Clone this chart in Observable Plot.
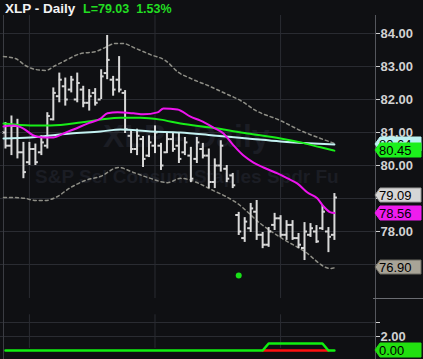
<!DOCTYPE html>
<html><head><meta charset="utf-8">
<script src="https://cdn.jsdelivr.net/npm/d3@7"></script>
<script src="https://cdn.jsdelivr.net/npm/@observablehq/plot@0.6"></script>
<style>
html,body{margin:0;padding:0;background:#0f1013;}
#chart{position:relative;width:423px;height:359px;background:#0f1013;overflow:hidden;}
#chart svg{position:absolute;left:0;display:block;overflow:visible;}
</style></head><body><div id="chart"></div>
<script>
// ---- data ----
const ticker = "XLP - Daily";
const lastText = "L=79.03  1.53%";
const watermark1 = "XLP - Daily";
const watermark2 = "S&P Sel Consum Staples Spdr Fu";

const opens  = [81.0,80.6,81.2,80.4,80.1,80.5,80.4,80.6,81.4,82.1, 82.4,82.3,82.0,82.3,81.9,82.2,82.0,82.8,82.6,82.6, 82.2,80.9,80.5,80.8,80.3,80.6,80.6,80.4,80.8,80.6, 80.4,80.3,80.2,80.5,80.3,79.5,80.0,79.9,79.7,78.5, 77.8,78.1,78.6,77.9,77.6,78.2,78.4,77.9,78.2,77.8, 77.5,77.9,78.0,78.1,78.0,77.9];
const highs  = [81.30,81.50,81.40,80.70,80.70,80.65,80.90,81.60,82.35,82.80, 82.65,82.70,82.80,82.40,82.30,82.33,82.90,83.94,82.70,83.30, 82.27,81.06,81.10,80.88,80.90,81.20,80.67,80.97,81.00,80.97, 80.85,80.55,80.85,80.67,80.50,80.20,80.75,80.00,79.76,78.58, 78.42,78.85,78.94,77.97,78.12,78.55,78.48,78.33,78.33,77.94, 78.27,78.24,78.18,78.79,78.12,79.15];
const lows   = [80.50,80.30,80.20,79.60,80.00,80.00,80.30,80.50,81.35,81.90, 81.80,82.20,81.90,81.75,81.65,81.80,82.00,82.60,82.10,82.20, 80.97,80.36,80.30,79.94,80.24,80.36,79.85,80.36,80.40,80.06, 80.30,79.48,80.06,80.20,79.30,79.30,79.80,79.48,79.30,77.88, 77.67,77.97,77.73,77.48,77.52,78.03,77.82,77.73,77.73,77.48, 77.12,77.82,77.64,78.03,77.36,77.73];
const closes = [80.6,81.2,80.4,79.8,80.5,80.1,80.7,81.5,82.2,82.6, 82.0,82.6,82.5,81.9,82.1,81.9,82.7,83.2,82.3,82.3, 81.1,80.5,80.9,80.2,80.7,81.0,80.0,80.8,80.5,80.2, 80.7,79.6,80.7,80.3,79.5,80.0,80.6,79.6,79.4,78.0, 78.3,78.7,77.9,77.6,78.0,78.4,77.9,78.2,77.8,77.6, 78.0,78.1,77.7,78.6,77.84,79.03];

// short moving average (magenta), sampled along the bar axis
const maShortAt  = [-0.33,1.34,3.01,4.68,6.35,8.03,9.70,11.37,13.71,15.89,17.06,18.73,21.40,23.08,25.42,26.42,28.76,30.94,32.61,34.78,36.45,38.13,39.80,41.47,43.14,45.48,47.16,48.83,50.50,52.17,53.18,54.35,55];
const maShortVal = [81.18,81.21,81.12,80.91,80.85,80.85,80.97,81.09,81.27,81.42,81.58,81.61,81.58,81.55,81.61,81.73,81.70,81.48,81.36,81.15,80.97,80.61,80.30,80.09,79.94,79.76,79.61,79.45,79.18,79.00,78.76,78.58,78.56];
// medium moving average (green)
const maMidAt  = [-0.33,4.18,7.53,12.54,15.89,19.23,22.58,25.92,29.26,34.28,40.47,45.99,49.33,52.68,55];
const maMidVal = [81.27,81.21,81.21,81.30,81.39,81.45,81.45,81.39,81.27,81.15,80.97,80.82,80.70,80.55,80.45];
// long moving average (light cyan)
const maLongAt  = [-0.33,4.18,7.53,10.87,15.89,19.23,24.25,29.26,34.78,40.47,45.99,51.50,55];
const maLongVal = [80.82,80.85,80.91,80.97,81.03,81.09,81.03,81.00,80.91,80.82,80.73,80.67,80.64];
// Bollinger bands (grey dashed)
const bbUpAt  = [-0.33,1.67,3.34,5.02,6.69,8.36,10.03,12.54,15.05,16.72,18.39,19.57,21.74,24.25,26.76,28.93,30.94,34.28,36.79,39.30,41.81,45.99,49.33,52.68,55];
const bbUpVal = [83.30,83.24,83.03,82.91,82.88,83.03,83.18,83.39,83.45,83.58,83.70,83.70,83.55,83.36,83.18,82.82,82.64,82.39,82.18,81.97,81.67,81.36,81.06,80.82,80.67];
const bbLoAt  = [-0.33,1.67,3.34,5.02,6.69,8.36,10.87,13.38,15.89,18.9,21.4,24.25,27.09,29.26,34.78,38.80,42.64,45.99,49.83,54.35,55];
const bbLoVal = [79.03,79.03,79.00,78.94,78.94,79.03,79.33,79.55,79.67,79.94,79.79,79.61,79.48,79.61,79.24,78.85,78.24,77.82,77.42,76.88,76.90];

const signalAt = [39], signalVal = [76.67];
const indGreen = Array.from({length: 56}, (_, i) => (i >= 44 && i <= 53) ? 1 : 0);
const indRedFrom = 43, indRedTo = 54;

const priceTicks = [77,78,79,80,81,82,83,84];
const hiddenTickLabels = [77,79]; // covered by price tags in the reference
const indTicks = [2,4];
const monthBreaks = [4,25,46];
const indGridSpan = [0.3,5.1];

const priceLabels = [
  {v: 80.64, fill: "#bdf2f2", stroke: "#bdf2f2"},
  {v: 80.45, fill: "#1cf01c", stroke: "#1cf01c"},
  {v: 79.09, fill: "#d6d6d6", stroke: "#9a9a9a"},
  {v: 78.56, fill: "#ee1cee", stroke: "#ee1cee"},
  {v: 76.90, fill: "#a8a497", stroke: "#6d6a62"}
];
const indLabels = [{v: 0, fill: "#22e010", stroke: "#22e010"}];

// ---- build ----
const font = "'Liberation Sans', Arial, sans-serif";
const grid = "#2a2c32", axisCol = "#55575d", txt = "#d2d2d2";
const xDomain = [-0.33, 61.87];
const bars = highs.map((h, i) => ({i, o: opens[i], h, l: lows[i], c: closes[i]}));
const pts = (at, val) => at.map((x, k) => ({x, y: val[k]}));

const main = Plot.plot({
  width: 423, height: 298,
  marginLeft: 3, marginRight: 48, marginTop: 15, marginBottom: 0,
  style: {background: "transparent", fontFamily: font, overflow: "visible"},
  x: {domain: xDomain, axis: null},
  y: {domain: [75.97, 84.545], axis: null},
  marks: [
    Plot.ruleY(priceTicks, {stroke: grid, strokeWidth: 1}),
    Plot.ruleX(monthBreaks, {stroke: grid, strokeWidth: 1}),
    Plot.ruleX([xDomain[0]], {stroke: "#3a3c42"}),
    Plot.line(pts(bbUpAt, bbUpVal), {x: "x", y: "y", stroke: "#8e8e86", strokeWidth: 1.5, strokeDasharray: "3,3", curve: "monotone-x"}),
    Plot.line(pts(bbLoAt, bbLoVal), {x: "x", y: "y", stroke: "#8e8e86", strokeWidth: 1.5, strokeDasharray: "3,3", curve: "monotone-x"}),
    Plot.ruleX(bars, {x: "i", y1: "l", y2: "h", stroke: "#d9d9d9", strokeWidth: 2}),
    Plot.ruleY(bars, {x1: d => d.i - 0.5, x2: "i", y: "o", stroke: "#d9d9d9", strokeWidth: 2}),
    Plot.ruleY(bars, {x1: "i", x2: d => d.i + 0.5, y: "c", stroke: "#d9d9d9", strokeWidth: 2}),
    Plot.line(pts(maLongAt, maLongVal), {x: "x", y: "y", stroke: "#c4f2f2", strokeWidth: 2, curve: "monotone-x"}),
    Plot.line(pts(maMidAt, maMidVal), {x: "x", y: "y", stroke: "#18ee18", strokeWidth: 2, curve: "monotone-x"}),
    Plot.line(pts(maShortAt, maShortVal), {x: "x", y: "y", stroke: "#ee14ee", strokeWidth: 2, curve: "monotone-x"}),
    Plot.dot(pts(signalAt, signalVal), {x: "x", y: "y", r: 3, fill: "#18e018", stroke: "none"}),
    Plot.ruleX([xDomain[1]], {stroke: axisCol}),
    Plot.axisY({anchor: "left", ticks: priceTicks, tickSize: 3, tickFormat: () => "", color: grid, label: null}),
    Plot.axisY({anchor: "right", ticks: priceTicks, tickSize: 4, tickPadding: 1, tickFormat: d => hiddenTickLabels.includes(d) ? "" : d.toFixed(2), color: txt, fontSize: 13, fontWeight: "bold", fontFamily: font, label: null})
  ]
});

const ind = Plot.plot({
  width: 423, height: 61,
  marginLeft: 3, marginRight: 48, marginTop: 0, marginBottom: 0,
  style: {background: "transparent", fontFamily: font, overflow: "visible"},
  x: {domain: xDomain, axis: null},
  y: {domain: [-1.286, 7.43], axis: null},
  marks: [
    Plot.ruleY(indTicks, {stroke: grid}),
    Plot.ruleX(monthBreaks, {y1: indGridSpan[0], y2: indGridSpan[1], stroke: grid}),
    Plot.ruleX([xDomain[0]], {stroke: "#3a3c42"}),
    Plot.line(d3.range(indRedFrom, indRedTo + 1).map(i => ({i, v: 0})), {x: "i", y: "v", stroke: "#ff1010", strokeWidth: 2.5}),
    Plot.line(indGreen.map((v, i) => ({i, v})), {x: "i", y: "v", stroke: "#10f010", strokeWidth: 2.5}),
    Plot.ruleX([xDomain[1]], {stroke: axisCol}),
    Plot.axisY({anchor: "left", ticks: indTicks, tickSize: 3, tickFormat: () => "", color: grid, label: null}),
    Plot.axisY({anchor: "right", ticks: indTicks, tickSize: 4, tickPadding: 1, tickFormat: d => d === 2 ? d.toFixed(2) : "", color: txt, fontSize: 13, fontWeight: "bold", fontFamily: font, label: null})
  ]
});

const root = document.getElementById("chart");
main.style.top = "0px"; ind.style.top = "298px";
root.appendChild(main); root.appendChild(ind);

// watermark behind marks
const ms = d3.select(main);
const firstG = main.querySelector("g");
const wm = document.createElementNS("http://www.w3.org/2000/svg", "g");
main.insertBefore(wm, firstG);
d3.select(wm).attr("text-anchor", "start");
d3.select(wm).append("text").attr("x", 103).attr("y", 147).attr("font-size", 32).attr("font-weight", "bold")
  .attr("font-family", font).attr("fill", "#1b1d24").text(watermark1);
d3.select(wm).append("text").attr("x", 35).attr("y", 183).attr("font-size", 19).attr("font-weight", "bold")
  .attr("font-family", font).attr("fill", "#1b1d24").text(watermark2);

// title
const t = ms.append("text").attr("x", 5).attr("y", 13).attr("text-anchor", "start").attr("font-family", font).attr("font-weight", "bold");
t.append("tspan").attr("font-size", 13.5).attr("fill", "#f2f2f2").text(ticker);
t.append("tspan").attr("x", 83).attr("font-size", 12.5).attr("fill", "#22dd22").style("white-space", "pre").text(lastText);

// price tags on the right axis
function tags(svg, plot, list) {
  const y = plot.scale("y");
  const x0 = 375, w = 46, h = 14;
  const g = d3.select(svg).append("g").attr("text-anchor", "start");
  for (const L of list) {
    const yc = Math.round(y.apply(L.v));
    g.append("path")
      .attr("d", `M${x0},${yc}L${x0+5},${yc-h/2}H${x0+w}V${yc+h/2}H${x0+5}Z`)
      .attr("fill", L.fill).attr("stroke", L.stroke).attr("stroke-width", 1);
    g.append("text").attr("x", x0 + 4).attr("y", yc).attr("dy", "0.36em")
      .attr("font-family", font).attr("font-size", 13).attr("fill", "#000").text(L.v.toFixed(2));
  }
}
tags(main, main, priceLabels);
tags(ind, ind, indLabels);

// panel separator on the axis strip
d3.select(ind).append("line").attr("x1", 373).attr("x2", 423).attr("y1", 0.5).attr("y2", 0.5).attr("stroke", "#6a6c72");
</script></body></html>
